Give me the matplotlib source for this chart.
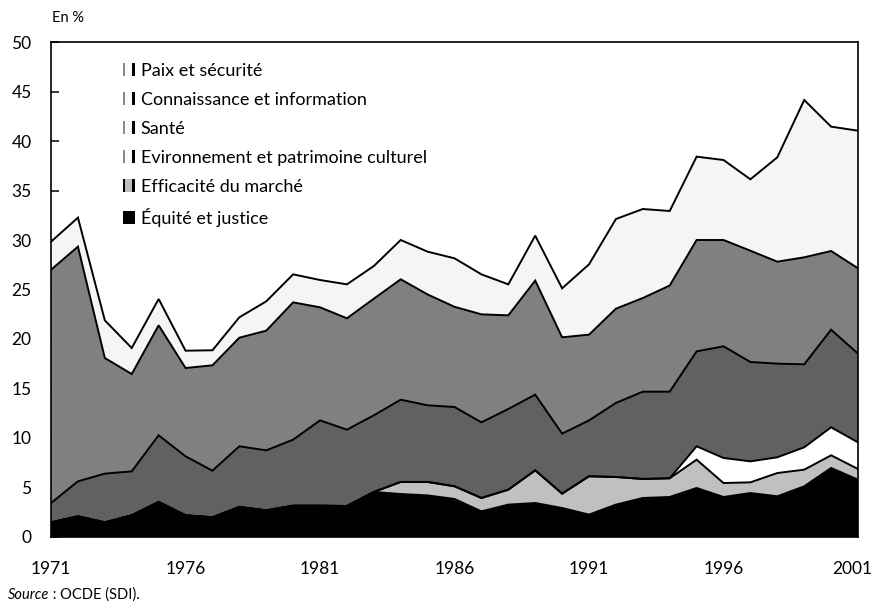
import numpy as np
import matplotlib
matplotlib.use("Agg")
import matplotlib.pyplot as plt
import matplotlib.transforms as mtransforms
from matplotlib.patches import Rectangle
from matplotlib.legend_handler import HandlerBase

plt.rcParams['font.family'] = ['Lato', 'DejaVu Sans']

years = list(range(1971, 2002))

equite = [1.48, 2.09, 1.48, 2.19, 3.54, 2.19, 1.99, 3.03, 2.69, 3.16, 3.16, 3.13, 4.55, 4.34, 4.20,
          3.84, 2.59, 3.27, 3.43, 2.93, 2.26, 3.27, 3.94, 4.04, 4.95, 4.04, 4.44, 4.11, 5.12, 6.97, 5.79]
efficacite = [0, 0, 0, 0, 0, 0, 0, 0, 0, 0, 0, 0, 0, 1.22, 1.36,
              1.28, 1.35, 1.51, 3.30, 1.45, 3.87, 2.79, 1.92, 1.89, 2.86, 1.41, 1.08, 2.35, 1.68, 1.28, 1.08]
environnement = [0, 0, 0, 0, 0, 0, 0, 0, 0, 0, 0, 0, 0, 0, 0,
                 0, 0, 0, 0, 0, 0, 0, 0, 0, 1.35, 2.53, 2.12, 1.59, 2.26, 2.83, 2.69]
sante = [1.95, 3.53, 4.92, 4.44, 6.73, 5.96, 4.71, 6.13, 6.06, 6.67, 8.62, 7.71, 7.74, 8.31, 7.74,
         8.01, 7.64, 8.15, 7.65, 6.06, 5.65, 7.48, 8.82, 8.75, 9.59, 11.28, 10.04, 9.46, 8.38, 9.86, 8.96]
connaissance = [23.57, 23.71, 11.68, 9.83, 11.11, 8.92, 10.64, 10.97, 12.09, 13.87, 11.42, 11.25, 11.78, 12.16, 11.20,
                10.12, 10.91, 9.46, 11.52, 9.73, 8.66, 9.52, 9.46, 10.72, 11.25, 10.74, 11.24, 10.30, 10.81, 7.95, 8.62]
paix = [2.83, 2.93, 3.80, 2.63, 2.66, 1.75, 1.52, 2.06, 2.96, 2.83, 2.76, 3.43, 3.30, 3.97, 4.32,
        4.90, 4.04, 3.13, 4.54, 4.95, 7.10, 9.06, 8.99, 7.53, 8.42, 8.08, 7.21, 10.54, 15.89, 12.56, 13.90]

labels = ["Équité et justice", "Efficacité du marché", "Evironnement et patrimoine culturel",
          "Santé", "Connaissance et information", "Paix et sécurité"]
series = [equite, efficacite, environnement, sante, connaissance, paix]
colors = ["#000000", "#c0c0c0", "#ffffff", "#616161", "#808080", "#f5f5f5"]
legend_fill = ["#000000", "#bdbdbd", "#fafafa", "#fafafa", "#fafafa", "#fafafa"]
legend_left = ["#000000", "#000000", "#8a8a8a", "#8a8a8a", "#8a8a8a", "#8a8a8a"]

xticks = [1971, 1976, 1981, 1986, 1991, 1996, 2001]
yticks = [0, 5, 10, 15, 20, 25, 30, 35, 40, 45, 50]

fig = plt.figure(figsize=(8.74, 6.08), dpi=100)
ax = fig.add_axes([0.0584, 0.1168, 0.9233, 0.8141])

x = np.array(years)
base = np.zeros(len(years))
for vals, col in zip(series, colors):
    top = base + np.array(vals)
    ax.fill_between(x, base, top, facecolor=col, edgecolor='none', linewidth=0, zorder=2)
    base = top
base = np.zeros(len(years))
for vals in series:
    top = base + np.array(vals)
    ax.plot(x, top, color='black', linewidth=1.4, zorder=3, solid_joinstyle='miter')
    base = top

ax.set_xlim(1971, 2001)
ax.set_ylim(0, 50)
ax.set_xticks(xticks)
ax.set_xticklabels([str(v) for v in xticks])
ax.set_yticks(yticks)
ax.tick_params(axis='y', direction='in', length=6, width=1.1, pad=14, labelsize=12.5)
ax.tick_params(axis='x', length=0, pad=17, labelsize=12.5)
for sp in ax.spines.values():
    sp.set_linewidth(1.2)
    sp.set_zorder(5)

last = ax.get_xticklabels()[-1]
last.set_horizontalalignment('right')
last.set_transform(last.get_transform() + mtransforms.ScaledTranslation(14 / 100, 0, fig.dpi_scale_trans))


class BarHandler(HandlerBase):
    def create_artists(self, legend, orig_handle, xdescent, ydescent, width, height, fontsize, trans):
        fill = orig_handle.get_facecolor()
        left = orig_handle.get_edgecolor()
        h = height
        y0 = -ydescent
        x0 = -xdescent
        r = Rectangle((x0, y0), width, h, facecolor=fill, edgecolor='none', transform=trans)
        l1 = Rectangle((x0, y0), width * 0.14, h, facecolor=left, edgecolor='none', transform=trans)
        bw = width * 0.22
        l2 = Rectangle((x0 + width - bw, y0), bw, h, facecolor='black', edgecolor='none', transform=trans)
        return [r, l1, l2]


handles = [Rectangle((0, 0), 1, 1, facecolor=f, edgecolor=l) for f, l in zip(legend_fill, legend_left)]
leg = ax.legend(handles[::-1], labels[::-1], loc='upper left', bbox_to_anchor=(0.089, 0.958),
                frameon=False, prop={'size': 13}, handlelength=0.66, handleheight=0.72, handletextpad=0.33,
                labelspacing=0.72, borderaxespad=0, borderpad=0,
                handler_map={Rectangle: BarHandler()})
leg.set_zorder(6)

fig.text(0.060, 0.970, "En %", fontsize=10.5, ha='left', va='center')
t1 = fig.text(0.009, 0.022, "Source", fontsize=10.5, style='italic', ha='left', va='center')
fig.canvas.draw()
bb = t1.get_window_extent()
fig.text(bb.x1 / fig.bbox.width, 0.022, " : OCDE (SDI).", fontsize=10.5, ha='left', va='center')

fig.savefig("out.png", dpi=100)
